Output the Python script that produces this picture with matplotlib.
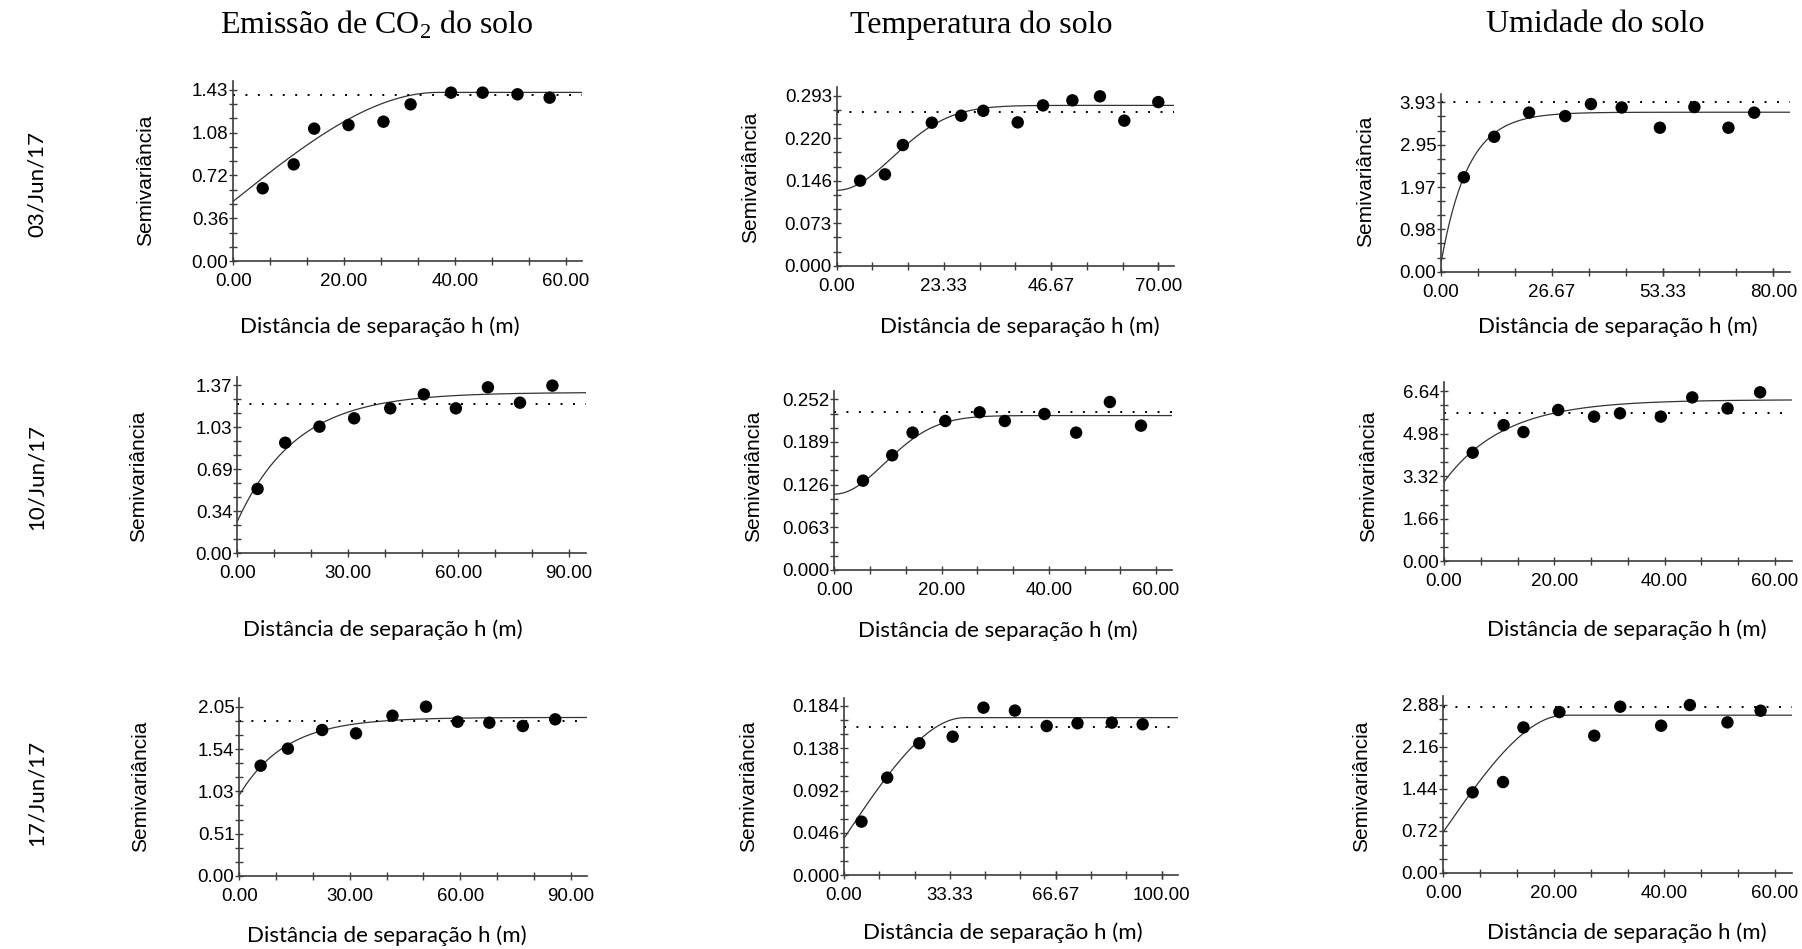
import numpy as np
import matplotlib
matplotlib.use("Agg")
import matplotlib.pyplot as plt
from matplotlib.ticker import FixedLocator, NullFormatter

# ---------------- data ----------------
col_titles = ["Emissão de CO$_\\mathregular{2}$ do solo", "Temperatura do solo", "Umidade do solo"]
row_labels = ["03/Jun/17", "10/Jun/17", "17/Jun/17"]
y_axis_label = "Semivariância"
x_axis_label = "Distância de separação h (m)"

# experimental semivariograms (lag distance h, semivariance)
co2_03_h = [5.3, 10.9, 14.6, 20.8, 27.1, 32.0, 39.3, 45.0, 51.3, 57.1]
co2_03_g = [0.608, 0.808, 1.107, 1.137, 1.165, 1.310, 1.408, 1.408, 1.394, 1.366]
temp_03_h = [5.1, 10.5, 14.4, 20.7, 27.1, 31.9, 39.4, 44.9, 51.3, 57.3, 62.6, 70.0]
temp_03_g = [0.1465, 0.1574, 0.208, 0.2465, 0.2585, 0.267, 0.247, 0.2763, 0.285, 0.2919, 0.250, 0.282]
umid_03_h = [5.5, 12.8, 21.2, 29.9, 36.1, 43.5, 52.7, 61.0, 69.2, 75.4]
umid_03_g = [2.19, 3.13, 3.69, 3.61, 3.89, 3.81, 3.34, 3.82, 3.34, 3.69]

co2_10_h = [5.5, 13.0, 22.3, 31.7, 41.5, 50.6, 59.3, 68.0, 76.7, 85.5]
co2_10_g = [0.524, 0.90, 1.031, 1.099, 1.180, 1.294, 1.180, 1.351, 1.226, 1.365]
temp_10_h = [5.35, 10.8, 14.6, 20.7, 27.1, 31.8, 39.2, 45.1, 51.4, 57.2]
temp_10_g = [0.1319, 0.1693, 0.2028, 0.220, 0.2328, 0.220, 0.2303, 0.2028, 0.248, 0.2131]
umid_10_h = [5.2, 10.8, 14.4, 20.7, 27.2, 31.9, 39.3, 45.0, 51.4, 57.3]
umid_10_g = [4.236, 5.31, 5.04, 5.90, 5.64, 5.77, 5.64, 6.39, 5.96, 6.59]

co2_17_h = [5.8, 13.2, 22.5, 31.7, 41.6, 50.7, 59.3, 67.9, 77.0, 85.8]
co2_17_g = [1.336, 1.542, 1.768, 1.727, 1.941, 2.05, 1.868, 1.856, 1.816, 1.897]
temp_17_h = [5.5, 13.6, 23.7, 34.2, 43.9, 53.8, 63.8, 73.5, 84.3, 94.0]
temp_17_g = [0.0581, 0.106, 0.1434, 0.1506, 0.1822, 0.179, 0.1622, 0.1652, 0.1659, 0.1641]
umid_17_h = [5.3, 10.8, 14.5, 21.0, 27.3, 32.0, 39.4, 44.6, 51.4, 57.4]
umid_17_g = [1.377, 1.554, 2.49, 2.754, 2.349, 2.846, 2.52, 2.874, 2.577, 2.777]

# fitted models: type, nugget C0, sill C0+C, range a ; sample variance (dotted line)
model_type = ["sph", "gau", "exp", "exp", "gau", "exp", "exp", "sph", "sph"]
model_nugget = [0.50, 0.130, 0.20, 0.26, 0.112, 3.10, 0.98, 0.040, 0.70]
model_sill = [1.41, 0.2763, 3.70, 1.31, 0.228, 6.30, 1.92, 0.1713, 2.70]
model_range = [37.0, 30.0, 19.5, 48.0, 23.0, 33.0, 38.0, 38.0, 22.0]
sample_variance = [1.388, 0.2648, 3.93, 1.213, 0.2328, 5.795, 1.876, 0.1615, 2.84]

# tick labels
x_tick_labels = [
    ["0.00", "20.00", "40.00", "60.00"],
    ["0.00", "23.33", "46.67", "70.00"],
    ["0.00", "26.67", "53.33", "80.00"],
    ["0.00", "30.00", "60.00", "90.00"],
    ["0.00", "20.00", "40.00", "60.00"],
    ["0.00", "20.00", "40.00", "60.00"],
    ["0.00", "30.00", "60.00", "90.00"],
    ["0.00", "33.33", "66.67", "100.00"],
    ["0.00", "20.00", "40.00", "60.00"],
]
y_tick_labels = [
    ["0.00", "0.36", "0.72", "1.08", "1.43"],
    ["0.000", "0.073", "0.146", "0.220", "0.293"],
    ["0.00", "0.98", "1.97", "2.95", "3.93"],
    ["0.00", "0.34", "0.69", "1.03", "1.37"],
    ["0.000", "0.063", "0.126", "0.189", "0.252"],
    ["0.00", "1.66", "3.32", "4.98", "6.64"],
    ["0.00", "0.51", "1.03", "1.54", "2.05"],
    ["0.000", "0.046", "0.092", "0.138", "0.184"],
    ["0.00", "0.72", "1.44", "2.16", "2.88"],
]

panels_h = [co2_03_h, temp_03_h, umid_03_h, co2_10_h, temp_10_h, umid_10_h, co2_17_h, temp_17_h, umid_17_h]
panels_g = [co2_03_g, temp_03_g, umid_03_g, co2_10_g, temp_10_g, umid_10_g, co2_17_g, temp_17_g, umid_17_g]

# ---------------- layout (pixels) ----------------
W, H, DPI = 1802, 949, 100
# x of y-axis, y of x-axis, x of last x label, y of top y label
ax_px = [
    (233.3, 261.0, 565.7, 90.0),
    (836.7, 265.7, 1158.3, 95.7),
    (1441.0, 271.7, 1773.3, 102.3),
    (237.3, 553.3, 569.0, 385.0),
    (834.3, 570.0, 1156.0, 399.3),
    (1444.0, 561.3, 1775.0, 391.0),
    (239.3, 876.0, 570.7, 706.7),
    (844.0, 875.0, 1161.7, 706.0),
    (1443.3, 872.7, 1775.0, 704.7),
]
ylab_pos = [(146, 180), (751, 177), (1366, 181), (139, 476), (754, 476), (1369, 476),
            (141, 786), (749, 786), (1362, 786)]
xlab_pos = [(380, 327), (1020, 327), (1618, 327), (383, 630), (998, 631), (1627, 630),
            (387, 936), (1003, 933), (1627, 933)]
title_pos = [(377, 25), (981, 25), (1595, 25)]
row_pos = [(37, 184), (37, 477), (37, 793)]

plt.rcParams['mathtext.fontset'] = 'custom'
plt.rcParams['mathtext.rm'] = 'Liberation Serif'

fig = plt.figure(figsize=(W / DPI, H / DPI), dpi=DPI)
fig.patch.set_facecolor("white")

def px(x, y):
    return x / W, 1 - y / H

def model(kind, c0, s, a, h):
    h = np.asarray(h, dtype=float)
    c = s - c0
    if kind == "sph":
        r = np.clip(h / a, 0, 1)
        return c0 + c * (1.5 * r - 0.5 * r ** 3)
    if kind == "exp":
        return c0 + c * (1 - np.exp(-3 * h / a))
    return c0 + c * (1 - np.exp(-3 * (h / a) ** 2))

spine_col = "#3c3c3c"
for i in range(9):
    x0, y0, xl, yl = ax_px[i]
    w = (xl - x0) * 1.05
    hgt = (y0 - yl) * 1.05
    ax = fig.add_axes([x0 / W, 1 - y0 / H, w / W, hgt / H])
    xlabels = x_tick_labels[i]
    ylabels = y_tick_labels[i]
    xstep = float(xlabels[1])
    xmax_lab = float(xlabels[-1])
    ytop = float(ylabels[-1])
    xmax = xmax_lab * 1.05
    ymax = ytop * 1.05

    hh = np.linspace(0, xmax, 500)
    ax.plot(hh, model(model_type[i], model_nugget[i], model_sill[i], model_range[i], hh),
            color="#333333", lw=0.9, zorder=2)
    ax.plot([0, xmax], [sample_variance[i]] * 2, color="black", lw=1.4,
            linestyle=(0, (1, 5.4)), zorder=2)
    ax.scatter(panels_h[i], panels_g[i], s=80, color="black", zorder=4, clip_on=False,
               edgecolors="none")

    ax.set_xlim(0, xmax)
    ax.set_ylim(0, ymax)
    for sp in ["top", "right"]:
        ax.spines[sp].set_visible(False)
    for sp in ["left", "bottom"]:
        ax.spines[sp].set_color(spine_col)
        ax.spines[sp].set_linewidth(1.2)

    xmajor = [float(v) for v in xlabels]
    ax.xaxis.set_major_locator(FixedLocator(xmajor))
    ax.set_xticklabels(xlabels)
    xminor = np.arange(0, xmax + 1e-9, xstep / 3)
    ax.xaxis.set_minor_locator(FixedLocator(xminor))
    ymajor = np.linspace(0, ytop, 5)
    ax.yaxis.set_major_locator(FixedLocator(ymajor))
    ax.set_yticklabels(ylabels)
    yminor = np.arange(0, ymax + 1e-12, ytop / 12)
    ax.yaxis.set_minor_locator(FixedLocator(yminor))
    ax.xaxis.set_minor_formatter(NullFormatter())
    ax.yaxis.set_minor_formatter(NullFormatter())

    ax.tick_params(which="both", direction="inout", length=6, width=1, color=spine_col)
    ax.tick_params(axis="x", which="major", pad=5.5, labelsize=13.5)
    ax.tick_params(axis="y", which="major", pad=0.5, labelsize=13.5)
    for lab in ax.get_xticklabels() + ax.get_yticklabels():
        lab.set_family("Liberation Sans")
        lab.set_color("black")

    fx, fy = px(*ylab_pos[i])
    fig.text(fx, fy, y_axis_label, rotation=90, ha="center", va="center",
             fontsize=15, family="Liberation Sans")
    fx, fy = px(*xlab_pos[i])
    fig.text(fx, fy, x_axis_label, ha="center", va="center", fontsize=16, family="Lato")

for j in range(3):
    fx, fy = px(*title_pos[j])
    fig.text(fx, fy, col_titles[j], ha="center", va="center", fontsize=23,
             family="Liberation Serif")
    fx, fy = px(*row_pos[j])
    fig.text(fx, fy, row_labels[j], rotation=90, ha="center", va="center", fontsize=16,
             family="Lato")

fig.savefig("out.png", dpi=DPI, facecolor="white")
